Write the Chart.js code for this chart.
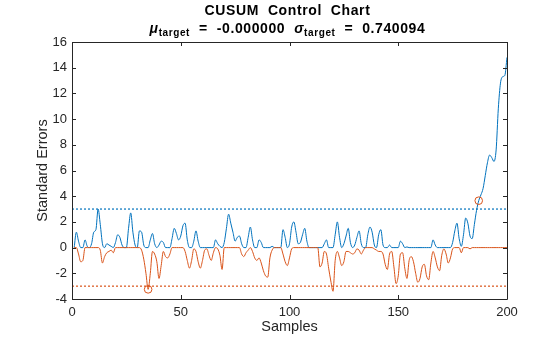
<!DOCTYPE html>
<html>
<head>
<meta charset="utf-8">
<script src="https://cdn.jsdelivr.net/npm/chart.js@4/dist/chart.umd.min.js"></script>
<style>
  body { margin: 0; background: #fff; }
  #wrap { width: 560px; height: 337px; }
</style>
</head>
<body>
<div id="wrap"><canvas id="myCanvas" width="560" height="337"></canvas></div>
<script>
// CUSUM values, one per sample (1..200)
var upperCusum = [
  0, 1.2, 0.5, 0, 0, 0.6, 0.1, 0, 0.3, 1.2,
  1.4, 3.0, 1.8, 0.3, 0, 0.3, 0.2, 0.1, 0, 0.4,
  1.0, 0.8, 0.2, 0, 0, 1.5, 2.7, 1.2, 0.2, 0,
  1.3, 1.2, 0.2, 0, 0, 0.6, 1.1, 0.3, 0, 0.2,
  0.5, 0.4, 0, 0, 0, 0.7, 1.5, 1.1, 0.6, 0.9,
  1.7, 1.9, 0.6, 0, 0, 0.5, 1.3, 0.5, 0, 0,
  0, 0, 0, 0, 0, 0.6, 0.3, 0.1, 0, 0.4,
  1.5, 2.6, 1.9, 1.2, 0.5, 0.8, 0.9, 0.3, 0, 0,
  0.8, 1.6, 0.6, 0, 0, 0.6, 0.4, 0, 0, 0,
  0, 0.1, 0, 0, 0, 0, 1.4, 0.8, 0, 0.3,
  1.6, 2.0, 1.2, 0.3, 0.4, 1.0, 1.5, 0.5, 0, 0,
  0, 0, 0, 0, 0, 0.3, 0.6, 0, 0, 0,
  1.0, 2.0, 0.8, 0, 0.3, 0.9, 1.5, 0.4, 0, 0.2,
  0.8, 1.3, 0.3, 0, 0, 1.0, 1.6, 1.2, 0.2, 0,
  1.0, 1.4, 0.2, 0, 0, 0.2, 0, 0, 0, 0,
  0.5, 0.3, 0, 0.05, 0, 0, 0, 0, 0, 0,
  0, 0, 0, 0, 0, 0.6, 0.2, 0, 0, 0,
  0, 0, 0, 0, 0.4, 1.3, 1.9, 0.7, 0.1, 1.0,
  2.3, 1.9, 0.9, 0.7, 1.8, 2.9, 3.65, 4.1, 4.6, 5.6,
  6.6, 7.2, 7.0, 6.7, 7.6, 10.8, 12.8, 13.3, 13.4, 14.8
];
var lowerCusum = [
  0, 0, -0.5, -1.1, -1.0, 0, 0, 0, 0, 0,
  0, 0, -0.2, -1.2, -0.7, -0.4, -0.3, -0.2, -0.4, 0,
  0, 0, 0, 0, 0, 0, 0, 0, 0, 0,
  0, -0.2, -0.9, -2.0, -3.25, -2.0, -0.3, -0.5, -1.1, -2.4,
  -1.4, -0.3, -0.7, -0.8, -0.5, 0, 0, 0, 0, 0,
  0, -0.3, -1.0, -1.6, -1.0, -0.1, -0.3, -1.1, -1.6, -1.0,
  -0.2, -0.1, -0.6, -1.0, -0.4, 0, -0.1, -0.6, -1.7, 0,
  0, 0, 0, 0, 0, 0, 0, -0.5, -0.7, -0.4,
  -0.2, 0, -0.3, -0.8, -1.0, -0.8, -1.2, -1.8, -2.2, -2.3,
  -0.8, -0.2, 0, 0, 0, 0, -0.5, -1.1, -1.4, -0.8,
  -0.1, 0, 0, 0, 0, 0, 0, 0, 0, 0,
  0, 0, 0, -1.5, -1.2, -0.3, -0.5, -1.6, -2.6, -3.4,
  -1.0, -0.3, -0.8, -1.4, -1.1, -0.3, -0.3, -0.4, -0.5, -0.4,
  -0.1, -0.2, -0.5, -0.2, 0, 0, 0, 0, -0.1, -0.2,
  -0.3, -0.3, -0.5, -1.3, -1.7, -0.5, -0.3, -1.5, -2.8, -2.2,
  -0.5, -0.4, -1.6, -2.4, -1.0, -0.7, -1.1, -2.0, -2.7, -2.4,
  -1.5, -1.3, -2.2, -2.5, -1.2, -0.3, -0.8, -1.5, -1.8, -0.6,
  -0.1, -0.5, -1.2, -0.8, -0.1, 0, 0, 0, -0.4, 0,
  0, 0, -0.1, 0, 0, 0, 0, 0, 0, 0,
  0, 0, 0, 0, 0, 0, 0, 0, 0, 0
];
var upperLimit = 3;
var lowerLimit = -3;
var limitSpan = [0, 200];
var upperAlarms = [187];
var lowerAlarms = [35];
var xTicks = [0, 50, 100, 150, 200];
var yTicks = [-4, -2, 0, 2, 4, 6, 8, 10, 12, 14, 16];
var targetMean = '-0.000000';
var targetStd = '0.740094';

var blue = '#0072BD';
var orange = '#D95319';
var axisColor = '#262626';
var fontFamily = '"Liberation Sans", Arial, Helvetica, sans-serif';

function toPoints(values) {
  return values.map(function(v, i) { return { x: i + 1, y: v }; });
}

var alarmPoints = upperAlarms.map(function(s) { return { x: s, y: upperCusum[s - 1] }; })
  .concat(lowerAlarms.map(function(s) { return { x: s, y: lowerCusum[s - 1] }; }));

// MATLAB style box with inward ticks on all four sides
var boxPlugin = {
  id: 'boxTicks',
  afterDraw: function(chart) {
    var ctx = chart.ctx;
    var a = chart.chartArea;
    var xs = chart.scales.x, ys = chart.scales.y;
    var len = 4;
    ctx.save();
    ctx.strokeStyle = axisColor;
    ctx.lineWidth = 1;
    ctx.beginPath();
    ctx.rect(Math.round(a.left) + 0.5, Math.round(a.top) + 0.5,
      Math.round(a.right - a.left), Math.round(a.bottom - a.top));
    xTicks.forEach(function(t) {
      var px = Math.round(xs.getPixelForValue(t)) + 0.5;
      ctx.moveTo(px, a.bottom); ctx.lineTo(px, a.bottom - len);
      ctx.moveTo(px, a.top); ctx.lineTo(px, a.top + len);
    });
    yTicks.forEach(function(t) {
      var py = Math.round(ys.getPixelForValue(t)) + 0.5;
      ctx.moveTo(a.left, py); ctx.lineTo(a.left + len, py);
      ctx.moveTo(a.right, py); ctx.lineTo(a.right - len, py);
    });
    ctx.stroke();
    ctx.restore();
  }
};

// two line title, second line has subscripts
var titlePlugin = {
  id: 'cusumTitle',
  afterDraw: function(chart) {
    var ctx = chart.ctx;
    var a = chart.chartArea;
    var cx = (a.left + a.right) / 2 - 2;
    ctx.save();
    ctx.fillStyle = '#000';
    ctx.textBaseline = 'alphabetic';
    ctx.letterSpacing = '0.6px';
    ctx.font = 'bold 14px ' + fontFamily;
    ctx.textAlign = 'center';
    ctx.fillText('CUSUM  Control  Chart', cx, 15);

    var big = 'bold 14px ' + fontFamily;
    var sym = 'italic bold 14px ' + fontFamily;
    var sub = 'bold 10px ' + fontFamily;
    var parts = [
      { t: 'μ', f: sym, dy: 0 },
      { t: 'target', f: sub, dy: 3 },
      { t: '  =  ' + targetMean + '  ', f: big, dy: 0 },
      { t: 'σ', f: sym, dy: 0 },
      { t: 'target', f: sub, dy: 3 },
      { t: '  =  ' + targetStd, f: big, dy: 0 }
    ];
    var total = 0;
    parts.forEach(function(p) { ctx.font = p.f; p.w = ctx.measureText(p.t).width; total += p.w; });
    var x = cx - total / 2;
    ctx.textAlign = 'left';
    parts.forEach(function(p) {
      ctx.font = p.f;
      ctx.fillText(p.t, x, 33 + p.dy);
      x += p.w;
    });
    ctx.restore();
  }
};

var ctx = document.getElementById('myCanvas');

var data = {
  datasets: [
    {
      label: 'Alarms',
      type: 'scatter',
      data: alarmPoints,
      borderColor: orange,
      backgroundColor: 'rgba(0,0,0,0)',
      borderWidth: 1,
      pointRadius: 3.8,
      pointStyle: 'circle',
      order: 0
    }, {
      label: 'Lower CUSUM',
      data: toPoints(lowerCusum),
      borderColor: orange,
      borderWidth: 1,
      pointRadius: 0,
      fill: false,
      cubicInterpolationMode: 'monotone',
      order: 1
    }, {
      label: 'Upper CUSUM',
      data: toPoints(upperCusum),
      borderColor: blue,
      borderWidth: 1,
      pointRadius: 0,
      fill: false,
      cubicInterpolationMode: 'monotone',
      order: 2
    }, {
      label: 'Upper limit',
      data: limitSpan.map(function(x) { return { x: x, y: upperLimit }; }),
      borderColor: blue,
      borderWidth: 1.2,
      borderDash: [2, 2],
      pointRadius: 0,
      fill: false,
      order: 3
    }, {
      label: 'Lower limit',
      data: limitSpan.map(function(x) { return { x: x, y: lowerLimit }; }),
      borderColor: orange,
      borderWidth: 1.2,
      borderDash: [2, 2],
      pointRadius: 0,
      fill: false,
      order: 3
    }
  ]
};

var options = {
  responsive: false,
  animation: false,
  layout: { padding: { top: 42, right: 53, bottom: 0, left: 0 } },
  plugins: {
    legend: { display: false },
    tooltip: { enabled: false }
  },
  scales: {
    x: {
      type: 'linear',
      min: 0,
      max: 200,
      afterFit: function(s) { s.height = 38; },
      afterBuildTicks: function(s) { s.ticks = xTicks.map(function(v) { return { value: v }; }); },
      grid: { display: false, drawTicks: false },
      border: { display: false },
      ticks: { color: axisColor, padding: 6, maxRotation: 0, font: { family: fontFamily, size: 13 } },
      title: {
        display: true,
        text: 'Samples',
        color: axisColor,
        font: { family: fontFamily, size: 14.5 },
        padding: { top: 0, bottom: 1 }
      }
    },
    y: {
      min: -4,
      max: 16,
      afterFit: function(s) { s.width = 72; },
      afterBuildTicks: function(s) { s.ticks = yTicks.map(function(v) { return { value: v }; }); },
      grid: { display: false, drawTicks: false },
      border: { display: false },
      ticks: { color: axisColor, padding: 5, font: { family: fontFamily, size: 13 } },
      title: {
        display: true,
        text: 'Standard Errors',
        color: axisColor,
        font: { family: fontFamily, size: 14.5 },
        padding: { top: 34, bottom: 0 }
      }
    }
  }
};

var chart = new Chart(ctx, {
  type: 'line',
  data: data,
  options: options,
  plugins: [boxPlugin, titlePlugin]
});
</script>
</body>
</html>
